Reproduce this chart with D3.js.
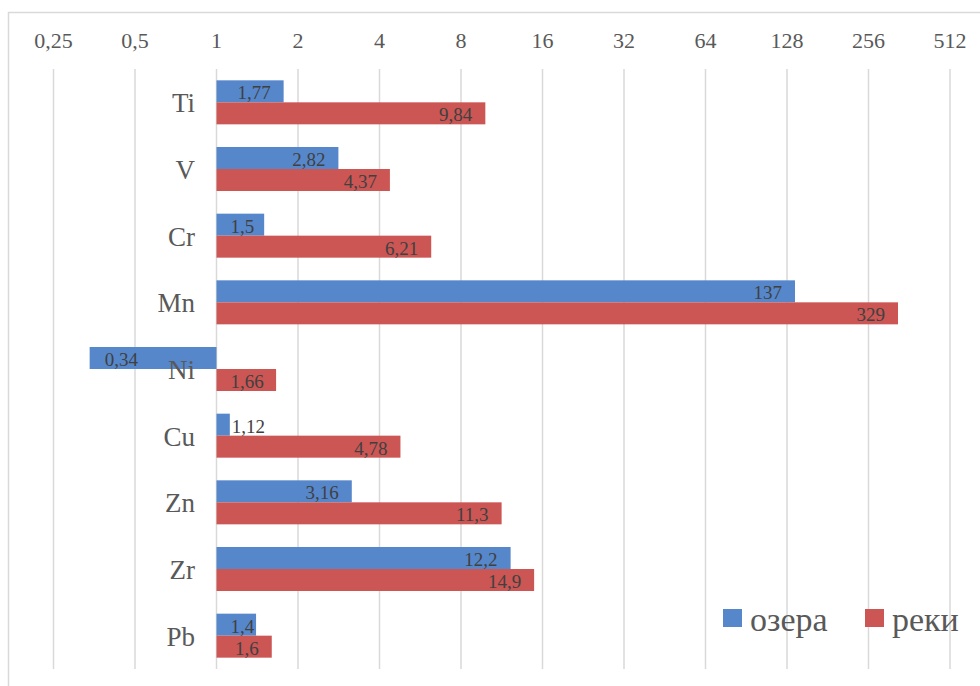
<!DOCTYPE html>
<html>
<head>
<meta charset="utf-8">
<script src="https://cdn.jsdelivr.net/npm/d3@7"></script>
<style>
  body { margin: 0; background: #fff; }
</style>
</head>
<body>
<svg id="chart" width="980" height="686"></svg>
<script>
// elements and their values for lakes / rivers
const elements = ["Ti", "V", "Cr", "Mn", "Ni", "Cu", "Zn", "Zr", "Pb"];
const lakes = [1.77, 2.82, 1.5, 137, 0.34, 1.12, 3.16, 12.2, 1.4];
const rivers = [9.84, 4.37, 6.21, 329, 1.66, 4.78, 11.3, 14.9, 1.6];
const seriesNames = ["озера", "реки"];
const tickValues = [0.25, 0.5, 1, 2, 4, 8, 16, 32, 64, 128, 256, 512];

const colors = ["#5687cb", "#cb5654"];
const fmt = v => String(v).replace(".", ",");
const serif = "Liberation Serif";

const svg = d3.select("#chart");

// outer chart border
svg.append("rect")
   .attr("x", 8.5).attr("y", 12.5)
   .attr("width", 990).attr("height", 700)
   .attr("fill", "none")
   .attr("stroke", "#d9d9d9")
   .attr("stroke-width", 1.5);

const x = d3.scaleLog().base(2)
            .domain([0.25, 512])
            .range([53.5, 950]);

const y = d3.scaleBand()
            .domain(elements)
            .range([69, 669])
            .paddingInner(0.34)
            .paddingOuter(0.17);

// gridlines
svg.append("g")
   .selectAll("line")
   .data(tickValues)
   .join("line")
   .attr("x1", d => x(d)).attr("x2", d => x(d))
   .attr("y1", 69).attr("y2", 669)
   .attr("stroke", "#d9d9d9")
   .attr("stroke-width", 1.5);

// tick labels on top
svg.append("g")
   .selectAll("text")
   .data(tickValues)
   .join("text")
   .attr("x", d => x(d))
   .attr("y", 48)
   .attr("text-anchor", "middle")
   .attr("font-family", serif)
   .attr("font-size", 22)
   .attr("fill", "#595959")
   .text(d => fmt(d));

// bars
const rows = [];
elements.forEach((el, i) => {
    [lakes[i], rivers[i]].forEach((v, s) => rows.push({ el, v, s }));
});

const barH = y.bandwidth() / 2;
const bars = svg.append("g");

bars.selectAll("rect")
    .data(rows)
    .join("rect")
    .attr("x", d => Math.min(x(1), x(d.v)))
    .attr("y", d => y(d.el) + d.s * barH)
    .attr("width", d => Math.abs(x(d.v) - x(1)))
    .attr("height", barH)
    .attr("fill", d => colors[d.s]);

// category labels (drawn over the bars)
svg.append("g")
   .selectAll("text")
   .data(elements)
   .join("text")
   .attr("x", 195)
   .attr("y", d => y(d) + y.bandwidth() / 2 + 10)
   .attr("text-anchor", "end")
   .attr("font-family", serif)
   .attr("font-size", 27)
   .attr("fill", "#595959")
   .text(d => d);

// data labels, "inside end" like the spreadsheet
const labels = svg.append("g")
    .selectAll("text")
    .data(rows)
    .join("text")
    .attr("y", d => y(d.el) + d.s * barH + barH / 2 + 8)
    .attr("font-family", serif)
    .attr("font-size", 19)
    .attr("fill", "#404040")
    .text(d => fmt(d.v));

labels.each(function(d) {
    const w = this.getComputedTextLength();
    const x0 = x(1), x1 = x(d.v);
    const el = d3.select(this).attr("text-anchor", "start");
    if (d.v < 1) {
        el.attr("x", x1 + 15);
    } else if (x0 + 14 + w > x1 + 2) {
        el.attr("x", x1 + 2);
    } else {
        el.attr("x", Math.max(x1 - 13 - w, x0 + 14));
    }
});

// legend
const legend = svg.append("g");
const legendX = [723, 865];
seriesNames.forEach((name, i) => {
    legend.append("rect")
          .attr("x", legendX[i]).attr("y", 609)
          .attr("width", 19).attr("height", 18)
          .attr("fill", colors[i]);
    legend.append("text")
          .attr("x", legendX[i] + 27).attr("y", 631)
          .attr("font-family", serif)
          .attr("font-size", 34)
          .attr("fill", "#595959")
          .text(name);
});
</script>
</body>
</html>
